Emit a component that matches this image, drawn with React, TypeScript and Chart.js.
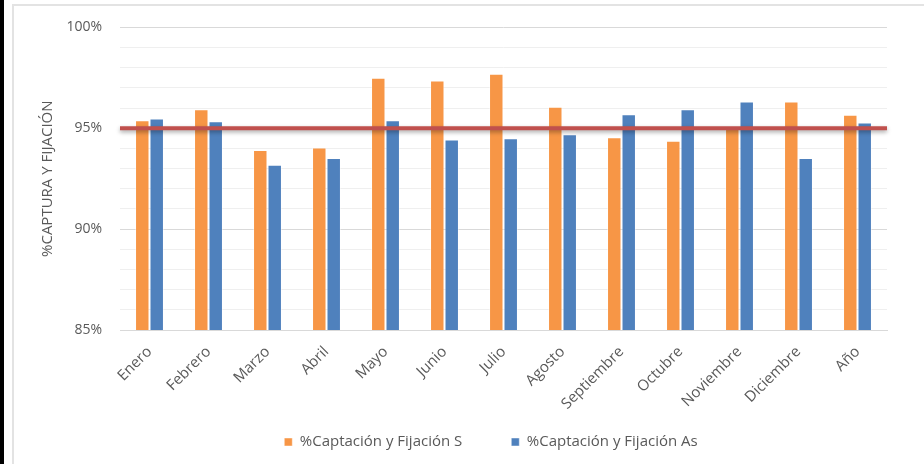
import React, { useEffect, useRef } from "react";
import { Chart, registerables } from "chart.js";

Chart.register(...registerables);

const categories = [
  "Enero", "Febrero", "Marzo", "Abril", "Mayo", "Junio", "Julio",
  "Agosto", "Septiembre", "Octubre", "Noviembre", "Diciembre", "Año",
];
const seriesS = [95.4, 95.94, 93.92, 94.05, 97.5, 97.37, 97.7, 96.07, 94.56, 94.38, 95.05, 96.33, 95.67];
const seriesAs = [95.48, 95.35, 93.19, 93.52, 95.4, 94.44, 94.51, 94.7, 95.69, 95.94, 96.33, 93.52, 95.28];
const seriesLabels = ["%Captación y Fijación S", "%Captación y Fijación As"];
const targetValue = 95;
const yMin = 85;
const yMax = 100;
const yTitle = "%CAPTURA Y FIJACIÓN";

const FONT = "'Open Sans', 'DejaVu Sans', sans-serif";
const TEXT = "#595959";

const targetLinePlugin = {
  id: "targetLine",
  afterDatasetsDraw(chart: any) {
    const { ctx, chartArea, scales } = chart;
    const y = scales.y.getPixelForValue(targetValue);
    ctx.save();
    ctx.strokeStyle = "#C0504D";
    ctx.lineWidth = 4;
    ctx.shadowColor = "rgba(0,0,0,0.35)";
    ctx.shadowBlur = 4;
    ctx.shadowOffsetY = 2;
    ctx.beginPath();
    ctx.moveTo(chartArea.left, y);
    ctx.lineTo(chartArea.right, y);
    ctx.stroke();
    ctx.restore();
  },
};

// let the rotated category labels extend below the (compact) x-axis box
const labelRoomPlugin = {
  id: "labelRoom",
  afterLayout(chart: any) {
    chart.scales.x.bottom = chart.height;
  },
};

export default function App() {
  const ref = useRef<HTMLCanvasElement | null>(null);

  useEffect(() => {
    if (!ref.current) return;
    const chart = new Chart(ref.current, {
      type: "bar",
      data: {
        labels: categories,
        datasets: [
          {
            label: seriesLabels[0],
            data: seriesS,
            backgroundColor: "#F79646",
            borderColor: "rgba(255,255,255,0.45)",
            borderWidth: 1,
            categoryPercentage: 0.49,
            barPercentage: 1,
          },
          {
            label: seriesLabels[1],
            data: seriesAs,
            backgroundColor: "#4F81BD",
            borderColor: "rgba(255,255,255,0.45)",
            borderWidth: 1,
            categoryPercentage: 0.49,
            barPercentage: 1,
          },
        ],
      },
      options: {
        responsive: false,
        animation: false,
        layout: { padding: { top: 9, right: 0, left: 44, bottom: 4.5 } },
        plugins: {
          tooltip: { enabled: false },
          legend: {
            position: "bottom",
            labels: {
              boxWidth: 8,
              boxHeight: 8,
              padding: 49,
              color: TEXT,
              font: { family: FONT, size: 15 },
            },
          },
        },
        scales: {
          x: {
            grid: { display: false },
            border: { color: "#d9d9d9", width: 1 },
            afterFit(scale: any) {
              scale.height = 55.5;
            },
            ticks: {
              autoSkip: false,
              maxRotation: 45,
              minRotation: 45,
              padding: 5,
              color: TEXT,
              font: { family: FONT, size: 15 },
            },
          },
          y: {
            min: yMin,
            max: yMax,
            afterFit(scale: any) {
              scale.width = 62;
            },
            border: { display: false },
            grid: {
              drawTicks: false,
              color: (c: any) => (c.tick && c.tick.value % 5 === 0 ? "#d9d9d9" : "#efefef"),
              lineWidth: 1,
            },
            ticks: {
              stepSize: 1,
              padding: 18,
              color: TEXT,
              font: { family: FONT, size: 14 },
              callback: (v: any) => (Number(v) % 5 === 0 ? v + "%" : ""),
            },
            title: {
              display: true,
              text: yTitle,
              color: TEXT,
              font: { family: FONT, size: 15 },
              padding: { top: -19, bottom: 0 },
            },
          },
          yRight: {
            type: "linear",
            position: "right",
            display: true,
            afterFit(scale: any) {
              scale.width = 37;
            },
            grid: { display: false, drawTicks: false },
            border: { display: false },
            ticks: { display: false },
          },
        },
      },
      plugins: [targetLinePlugin, labelRoomPlugin],
    });
    return () => chart.destroy();
  }, []);

  return (
    <div style={{ position: "absolute", left: 0, top: 0, width: 924, height: 464, background: "#fff", overflow: "hidden" }}>
      <div style={{ position: "absolute", left: 0, top: 0, width: 4, height: 464, background: "#000" }} />
      <div
        style={{
          position: "absolute",
          left: 12,
          top: 4,
          width: 912,
          height: 460,
          borderLeft: "2px solid #e3e3e3",
          borderTop: "2px solid #e3e3e3",
        }}
      >
        <canvas ref={ref} width={910} height={463} style={{ position: "absolute", left: 0, top: -5, width: 910, height: 463 }} />
      </div>
    </div>
  );
}
